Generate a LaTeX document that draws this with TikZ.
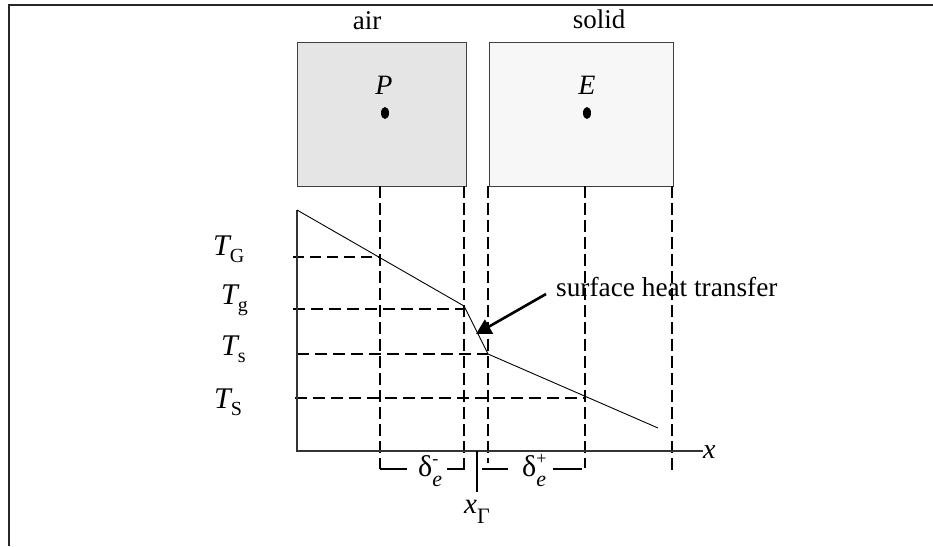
\documentclass[tikz,border=0pt]{standalone}
\usepackage{fontspec}
\setmainfont{Liberation Serif}
\usetikzlibrary{arrows.meta}
\newcommand\myfs[1]{\fontsize{#1}{#1}\selectfont}
\newcommand\mytl[1]{{\myfs{30}\itshape T}\raisebox{-7pt}{\myfs{20}#1}}
\newcommand\mydel[1]{{\myfs{30}δ}\rlap{\raisebox{12pt}{\myfs{18}#1}}\raisebox{-10pt}{\myfs{22}\itshape e}}
\begin{document}
\begin{tikzpicture}[x=1pt,y=-1pt,
  frame/.style={line width=1.5pt, draw=black!85},
  cell/.style={draw=black!75, line width=1.2pt, inner sep=0pt, anchor=north west},
  vdash/.style={line width=2.5pt, dash pattern=on 12pt off 5pt},
  hdash/.style={line width=2.5pt, dash pattern=on 12pt off 6pt},
  hthin/.style={line width=1.5pt, dash pattern=on 11pt off 6pt},
  curve/.style={line width=0.9pt},
  axis/.style={line width=1.4pt, draw=black!80},
  dim/.style={line width=1.1pt},
  lbl/.style={inner sep=0pt, anchor=base west},
]
\useasboundingbox (0,0) rectangle (933,546);
\draw[frame] (9,546) -- (9,5) -- (933,5);

% cells
\node[cell, fill=black!10, minimum width=169pt, minimum height=144pt] (P) at (297,42) {};
\node[cell, fill=black!3, minimum width=184pt, minimum height=144pt] (E) at (489,42) {};
\node[lbl, anchor=base, font=\myfs{27}] (air) at (367,29) {air};
\node[lbl, anchor=base, font=\myfs{27}] (solid) at (599,28) {solid};
\node[lbl, anchor=base, font=\myfs{28}\itshape] (Plab) at (384,94) {P};
\node[lbl, anchor=base, font=\myfs{28}\itshape] (Elab) at (587,94) {E};
\fill (385,113) ellipse [x radius=4pt, y radius=6pt];
\fill (587,113) ellipse [x radius=4pt, y radius=6pt];

% coordinates
\coordinate (O) at (297,451);
\coordinate (C0) at (297,210);
\coordinate (C1) at (464,306);
\coordinate (C2) at (488,354);
\coordinate (C3) at (658,428);
\coordinate (Xend) at (703,451);

% vertical dashed lines
\draw[vdash] (380,186) -- (380,469);
\draw[vdash] (464,186) -- (464,470);
\draw[vdash] (488,186) -- (488,463);
\draw[vdash] (585,186) -- (585,468);
\draw[vdash] (672,186) -- (672,473);

% horizontal dashed lines
\draw[hthin] (293,257) -- (380,257);
\draw[hdash] (293,309) -- (464,309);
\draw[hdash] (297,354) -- (488,354);
\draw[hdash] (295,398) -- (585,398);

% axes
\draw[axis] (C0) -- (O) -- (Xend);
\node[lbl, anchor=base west, font=\myfs{28}\itshape] (xlab) at (703,458) {x};

% curve
\draw[curve] (C0) -- (C1) -- (C2) -- (C3);

% temperature labels
\node[lbl] (TG) at (213,255) {\mytl{G}};
\node[lbl] (Tg) at (221,304) {\mytl{g}};
\node[lbl] (Ts) at (221,355) {\mytl{s}};
\node[lbl] (TS) at (214,408) {\mytl{S}};

% surface heat transfer
\node[lbl, font=\myfs{27.3}] (sht) at (556,296) {surface heat transfer};
\coordinate (tip) at (476,334);
\draw[line width=2.6pt, -{Triangle[width=16pt,length=15pt]}] (546,294) -- (tip);

% dimension marks
\draw[dim] (380,469) -- (407,469);
\draw[dim] (447,469) -- (464,469);
\draw[dim] (482,469) -- (508,469);
\draw[dim] (553,469) -- (582,469);
\draw[dim] (477,451) -- (477,492);
\node[lbl] (dm) at (418,476) {\mydel{-}};
\node[lbl] (dp) at (522,476) {\mydel{+}};
\node[lbl] (xg) at (464,513) {{\myfs{29}\itshape x}\raisebox{-10pt}{\myfs{22}Γ}};
\end{tikzpicture}
\end{document}
